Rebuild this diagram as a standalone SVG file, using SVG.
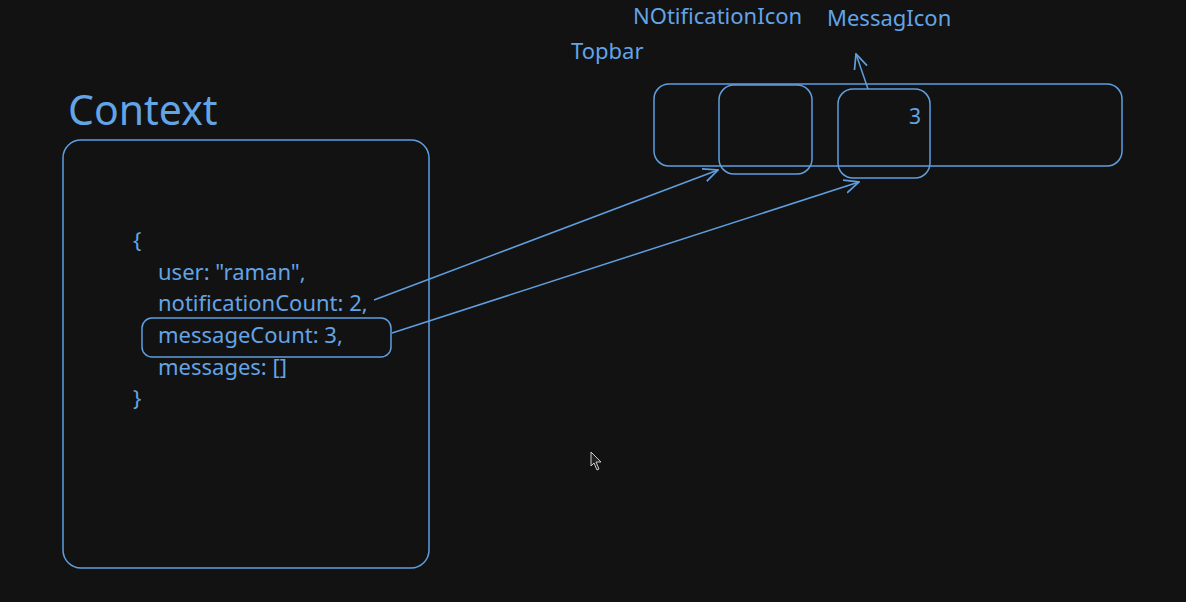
<svg xmlns="http://www.w3.org/2000/svg" width="1186" height="602" viewBox="0 0 1186 602">
<defs>
<style>
.t{font-family:"Noto Sans","Open Sans",sans-serif;fill:#62a4e6}
.b{fill:none;stroke:#5f9fdf;stroke-width:1.5}
.c{fill:none;stroke:#5f9fdf;stroke-width:1.5}
</style>
<marker id="ah" viewBox="0 0 12 12" refX="11" refY="6" markerWidth="16" markerHeight="16" markerUnits="userSpaceOnUse" orient="auto">
<path d="M0,1 L11,6 L0,11" fill="none" stroke="#5f9fdf" stroke-width="1.3"/>
</marker>
</defs>
<rect width="1186" height="602" fill="#121212"/>
<g id="context-title"><text class="t" x="68" y="125" font-size="41">Context</text></g>
<g id="context"><rect class="b" x="63" y="140" width="366" height="428" rx="18"/>
<text class="t" font-size="22"><tspan x="133" y="248">{</tspan><tspan x="158" y="280">user: "raman",</tspan><tspan x="158" y="311">notificationCount: 2,</tspan><tspan x="158" y="343">messageCount: 3,</tspan><tspan x="158" y="375">messages: []</tspan><tspan x="133" y="406">}</tspan></text>
</g>
<g id="messageCount"><rect class="b" x="142" y="318" width="249" height="39" rx="10"/></g>
<g id="topbar-label"><text class="t" x="571" y="59" font-size="22">Topbar</text></g>
<g id="notif-label"><text class="t" x="633" y="24" font-size="22">NOtificationIcon</text></g>
<g id="msg-label"><text class="t" x="827" y="26" font-size="22">MessagIcon</text></g>
<g id="topbar"><rect class="b" x="654" y="84" width="468" height="82" rx="15"/></g>
<g id="notification-icon"><rect class="b" x="719" y="85" width="93" height="89" rx="15"/></g>
<g id="message-icon"><rect class="b" x="838" y="89" width="92" height="89" rx="15"/>
<text class="t" x="909" y="124" font-size="21">3</text></g>
<g id="connectors">
<line class="c" x1="374" y1="300" x2="718" y2="170" marker-end="url(#ah)"/>
<line class="c" x1="392" y1="333" x2="859" y2="182" marker-end="url(#ah)"/>
<line class="c" x1="868" y1="89" x2="856" y2="54" marker-end="url(#ah)"/>
</g>
<path d="M591,452 L591,466 L594,463 L597,470 L599,469 L596,462 L601,462 Z" fill="#222" stroke="#ccc" stroke-width="1"/>
</svg>
